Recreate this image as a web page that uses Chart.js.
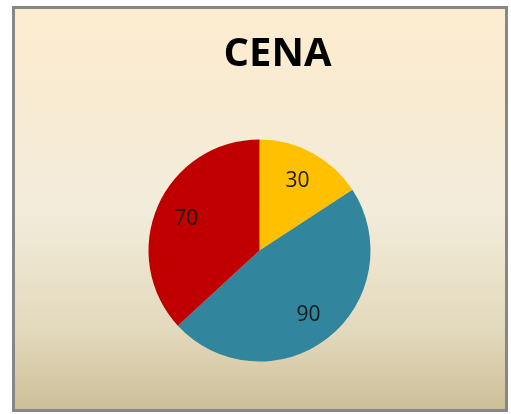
<!DOCTYPE html>
<html>
<head>
<meta charset="utf-8">
<script src="https://cdn.jsdelivr.net/npm/chart.js@4"></script>
<style>
  html, body { margin: 0; padding: 0; background: #fff; }
  #box {
    position: absolute; left: 12px; top: 6px;
    width: 490px; height: 400px;
    border: 3px solid #878787;
    background: linear-gradient(to bottom, #fdecd0 0%, #f8ebd3 25%, #f2ecdb 50%, #ebe3cb 65%, #e3d9bd 80%, #cdbf98 100%);
  }
  #wrap { position: absolute; left: 0; top: 0; width: 511px; height: 414px; }
</style>
</head>
<body>
<div id="box"></div>
<div id="wrap"><canvas id="grafico" width="511" height="414"></canvas></div>
<script>
// --- Dados ---
const categorias = ['A', 'B', 'C'];
const valores = [30, 90, 70];
const cores = ['#ffc000', '#31859c', '#c00000'];
const titulo = 'CENA';

// Escreve os valores dentro das fatias, como no Excel.
const rotulosPlugin = {
  id: 'rotulos',
  afterDatasetsDraw(chart) {
    const ctx = chart.ctx;
    const meta = chart.getDatasetMeta(0);
    ctx.save();
    ctx.font = '21px "Open Sans"';
    ctx.fillStyle = '#1a1a1a';
    ctx.textAlign = 'center';
    ctx.textBaseline = 'middle';
    meta.data.forEach((arc, i) => {
      const p = arc.getProps(['x', 'y', 'startAngle', 'endAngle', 'outerRadius'], true);
      const meio = (p.startAngle + p.endAngle) / 2;
      const r = p.outerRadius * 0.72;
      ctx.fillText(String(valores[i]), p.x + Math.cos(meio) * r, p.y + Math.sin(meio) * r + 1);
    });
    ctx.restore();
  }
};

// Título desenhado à parte, pois não fica centrado sobre a pizza.
const tituloPlugin = {
  id: 'tituloCena',
  afterDraw(chart) {
    const ctx = chart.ctx;
    ctx.save();
    ctx.font = 'bold 40px "Open Sans"';
    ctx.fillStyle = '#000';
    ctx.textAlign = 'center';
    ctx.textBaseline = 'middle';
    ctx.fillText(titulo, 277.5, 55);
    ctx.restore();
  }
};

const grafico = new Chart(document.getElementById('grafico'), {
  type: 'pie',
  data: {
    labels: categorias,
    datasets: [{
      data: valores,
      backgroundColor: cores,
      borderWidth: 0
    }]
  },
  options: {
    responsive: false,
    animation: false,
    layout: { padding: { left: 148.5, right: 140.5, top: 139.5, bottom: 52.5 } },
    plugins: {
      legend: { display: false },
      tooltip: { enabled: false },
      title: { display: false }
    }
  },
  plugins: [rotulosPlugin, tituloPlugin]
});
</script>
</body>
</html>
